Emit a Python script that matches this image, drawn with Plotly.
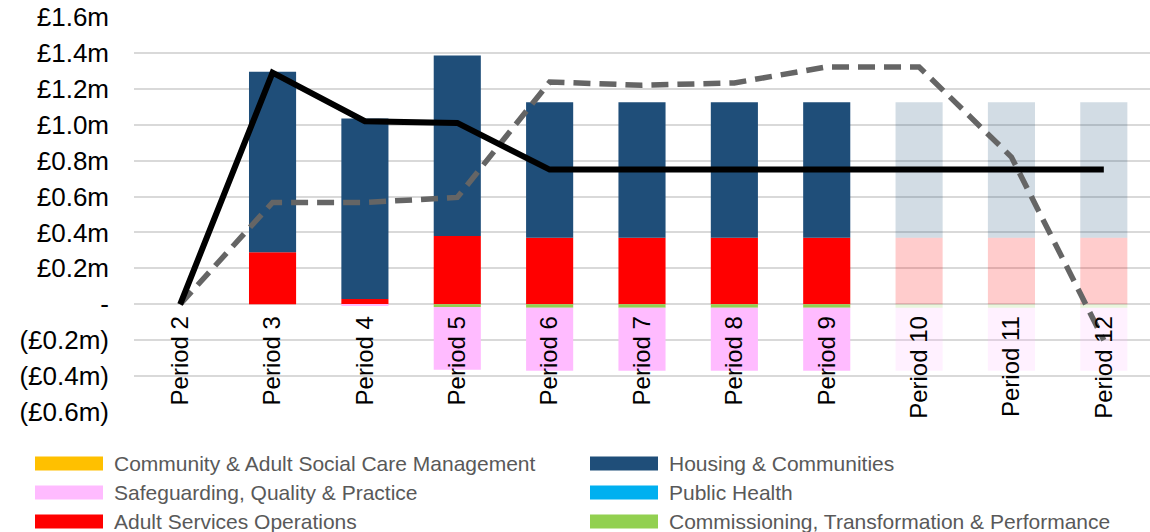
import plotly.graph_objects as go

# ---- data (values in £m) ----
periods = ["Period 2", "Period 3", "Period 4", "Period 5", "Period 6", "Period 7",
           "Period 8", "Period 9", "Period 10", "Period 11", "Period 12"]

community_asc_mgmt = [0, 0, 0, 0, 0, 0, 0, 0, 0, 0, 0]
adult_services_ops = [0, 0.29, 0.03, 0.38, 0.37, 0.37, 0.37, 0.37, 0.37, 0.37, 0.37]
housing_communities = [0, 1.005, 1.005, 1.005, 0.755, 0.755, 0.755, 0.755, 0.755, 0.755, 0.755]
commissioning_perf = [0, 0, 0, -0.015, -0.02, -0.02, -0.02, -0.02, -0.02, -0.02, -0.02]
safeguarding_quality = [0, 0, -0.01, -0.35, -0.35, -0.35, -0.35, -0.35, -0.35, -0.35, -0.35]
public_health = [0, 0, 0, 0, 0, 0, 0, 0, 0, 0, 0]

total_line = [0, 1.29, 1.02, 1.01, 0.75, 0.75, 0.75, 0.75, 0.75, 0.75, 0.75]
comparison_line = [0, 0.567, 0.567, 0.595, 1.238, 1.22, 1.233, 1.322, 1.322, 0.82, -0.2]

# periods after Period 9 are forecast and drawn faded
forecast_from = 8

y_ticks = [-0.6, -0.4, -0.2, 0, 0.2, 0.4, 0.6, 0.8, 1.0, 1.2, 1.4, 1.6]
y_tick_text = ["(£0.6m)", "(£0.4m)", "(£0.2m)", "-", "£0.2m", "£0.4m", "£0.6m",
               "£0.8m", "£1.0m", "£1.2m", "£1.4m", "£1.6m"]

# legend layout: first column, then second column
legend_names = ["Community & Adult Social Care Management",
                "Safeguarding, Quality & Practice",
                "Adult Services Operations",
                "Housing & Communities",
                "Public Health",
                "Commissioning, Transformation & Performance"]

colors = {
    "Community & Adult Social Care Management": "#FFC000",
    "Safeguarding, Quality & Practice": "#FFBBFF",
    "Adult Services Operations": "#FF0000",
    "Housing & Communities": "#1F4E79",
    "Public Health": "#00B0F0",
    "Commissioning, Transformation & Performance": "#92D050",
}

# stacking order (first trace sits next to the zero line)
series = [
    ("Community & Adult Social Care Management", community_asc_mgmt),
    ("Adult Services Operations", adult_services_ops),
    ("Housing & Communities", housing_communities),
    ("Commissioning, Transformation & Performance", commissioning_perf),
    ("Safeguarding, Quality & Practice", safeguarding_quality),
    ("Public Health", public_health),
]

FONT = "Liberation Sans, Arial, sans-serif"
W, H = 1150, 532
M_L, M_R, M_T, M_B = 134, 0, 17, 120
Y_MIN, Y_MAX = -0.6, 1.6

opac = [1.0 if i < forecast_from else 0.2 for i in range(len(periods))]

fig = go.Figure()
for name, vals in series:
    fig.add_trace(go.Bar(
        x=periods, y=vals, name=name,
        marker=dict(color=colors[name], opacity=opac, line=dict(width=0)),
        showlegend=False,
    ))

fig.add_trace(go.Scatter(
    x=periods, y=comparison_line, mode="lines", name="Comparison",
    line=dict(color="#656565", width=5.5, dash="17px,9px"),
    showlegend=False,
))
fig.add_trace(go.Scatter(
    x=periods, y=total_line, mode="lines", name="Total",
    line=dict(color="#000000", width=6),
    showlegend=False,
))

# custom legend drawn below the plot
plot_w = W - M_L - M_R
plot_h = H - M_T - M_B


def px_to_paper(px, py):
    return (px - M_L) / plot_w, (H - M_B - py) / plot_h


col_x = [35, 590]
row_y = [463.5, 492.5, 521.5]
sw_w, sw_h = 68, 14
shapes = []
annotations = []
for i, name in enumerate(legend_names):
    cx = col_x[i // 3]
    cy = row_y[i % 3]
    x0, y0 = px_to_paper(cx, cy + sw_h / 2)
    x1, y1 = px_to_paper(cx + sw_w, cy - sw_h / 2)
    shapes.append(dict(type="rect", xref="paper", yref="paper",
                       x0=x0, x1=x1, y0=y0, y1=y1,
                       fillcolor=colors[name], line=dict(width=0)))
    tx, ty = px_to_paper(cx + sw_w + 9, cy)
    annotations.append(dict(xref="paper", yref="paper", x=tx, y=ty,
                            text=name, showarrow=False, xanchor="left",
                            yanchor="middle",
                            font=dict(family=FONT, size=21, color="#595959")))

fig.update_layout(
    width=W, height=H,
    margin=dict(l=M_L, r=M_R, t=M_T, b=M_B, pad=0),
    barmode="relative", bargap=0.49,
    plot_bgcolor="white", paper_bgcolor="white",
    font=dict(family=FONT, color="#000000"),
    shapes=shapes, annotations=annotations,
    showlegend=False,
    xaxis=dict(
        type="category", anchor="free",
        position=(0 - Y_MIN) / (Y_MAX - Y_MIN),
        showgrid=False, showline=False, ticks="",
        tickangle=-90, tickfont=dict(family=FONT, size=24, color="#000000"),
        ticklabelstandoff=6,
    ),
    yaxis=dict(
        range=[Y_MIN, Y_MAX], tickvals=y_ticks, ticktext=y_tick_text,
        showgrid=True, gridcolor="#D9D9D9", gridwidth=1.5,
        zeroline=True, zerolinecolor="#D9D9D9", zerolinewidth=1.5,
        showline=False, ticks="",
        tickfont=dict(family=FONT, size=26, color="#000000"),
        ticklabelstandoff=24,
    ),
)

fig.write_html("out.html")
